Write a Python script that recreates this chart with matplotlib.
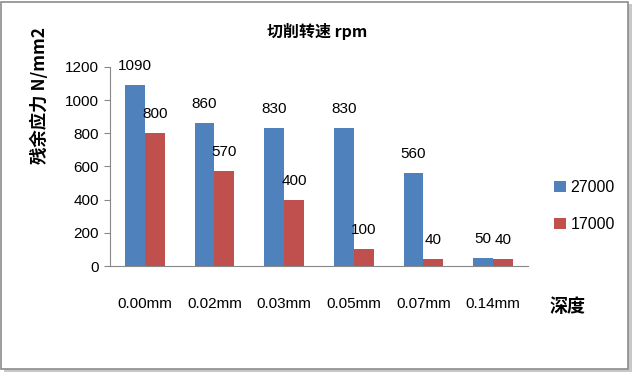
import matplotlib.pyplot as plt
from matplotlib.patches import Rectangle
import numpy as np

plt.rcParams['font.family'] = ['Noto Sans CJK SC', 'DejaVu Sans']

categories = ['0.00mm', '0.02mm', '0.03mm', '0.05mm', '0.07mm', '0.14mm']
s27000 = [1090, 860, 830, 830, 560, 50]
s17000 = [800, 570, 400, 100, 40, 40]
series_names = ['27000', '17000']

blue = '#4F81BD'
red = '#C0504D'

fig = plt.figure(figsize=(6.33, 3.73), dpi=100)
W, H = 633, 373

# frame with shadow
fig.patches.append(Rectangle((4 / W, 1 / H), 628 / W, 368 / H, transform=fig.transFigure,
                             facecolor='#C8C8C8', edgecolor='none', zorder=-3))
fig.patches.append(Rectangle((1 / W, 4 / H), 627 / W, 367 / H, transform=fig.transFigure,
                             facecolor='white', edgecolor='#8C8C8C', linewidth=1.2, zorder=-2))

ax = fig.add_axes([110 / W, (H - 266) / H, 418 / W, 199 / H])
x = np.arange(len(categories))
w = 0.285
b1 = ax.bar(x - w / 2, s27000, w, color=blue, label=series_names[0], zorder=3)
b2 = ax.bar(x + w / 2, s17000, w, color=red, label=series_names[1], zorder=3)

for bars, vals in ((b1, s27000), (b2, s17000)):
    for rect, v in zip(bars, vals):
        ax.annotate(str(v), (rect.get_x() + rect.get_width() / 2, v),
                    xytext=(0, 12), textcoords='offset pixels',
                    ha='center', va='bottom', fontsize=11, family='Liberation Sans')

ax.set_xlim(-0.5, len(categories) - 0.5)
ax.set_ylim(0, 1200)
ax.set_yticks(range(0, 1201, 200))
ax.set_xticks(x)
ax.set_xticklabels(categories, family='Liberation Sans', fontsize=11)
for lab in ax.get_yticklabels():
    lab.set_family('Liberation Sans')
    lab.set_fontsize(11)
ax.tick_params(axis='x', length=0, pad=22)
ax.tick_params(axis='y', length=4, direction='out', color='#888888', pad=4)
for s in ('top', 'right'):
    ax.spines[s].set_visible(False)
for s in ('left', 'bottom'):
    ax.spines[s].set_color('#888888')
ax.set_facecolor('none')

fig.text(317 / W, 1 - 31 / H, '切削转速 rpm', ha='center', va='center',
         fontsize=11.5, fontweight='bold')
fig.text(40 / W, 1 - 95 / H, '残余应力 N/mm2', ha='center', va='center',
         rotation=90, fontsize=12.5, fontweight='semibold')
fig.text(568 / W, 1 - 307 / H, '深度', ha='center', va='center',
         fontsize=13, fontweight='semibold')

fig.legend(handles=[b1, b2], labels=series_names, loc='center left',
           bbox_to_anchor=(540 / W, 1 - 206 / H), frameon=False,
           handlelength=0.7, handleheight=0.7, handletextpad=0.3,
           labelspacing=1.4, prop={'family': 'Liberation Sans', 'size': 11.5})

fig.savefig('out.png', dpi=100)
